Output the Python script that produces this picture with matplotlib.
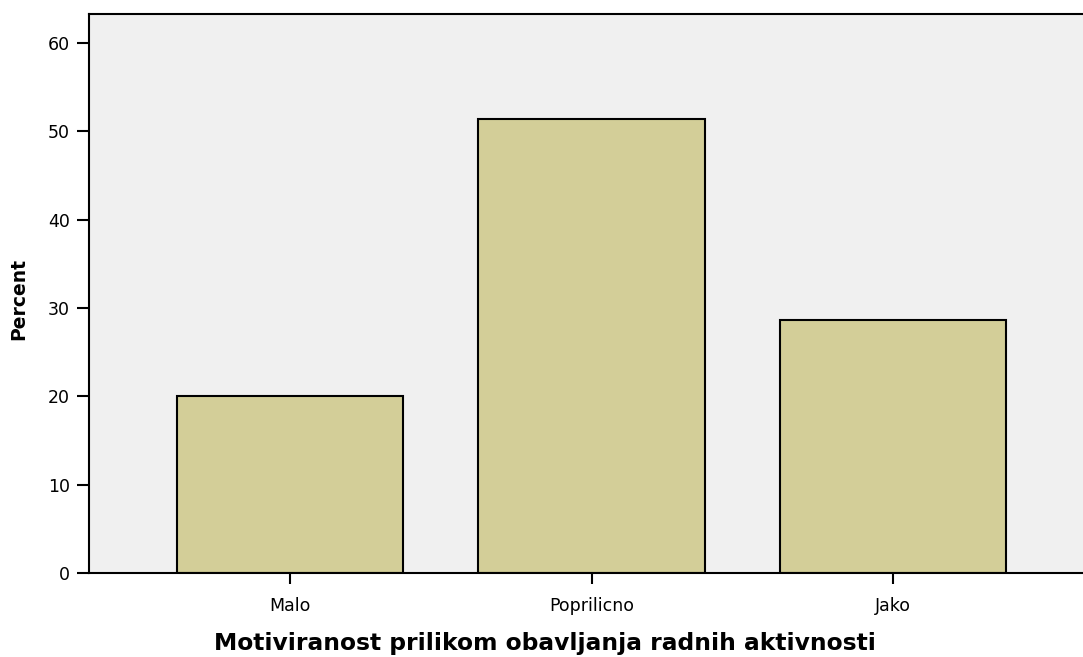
import numpy as np
import matplotlib.pyplot as plt

plt.rcParams['font.family'] = ['DejaVu Sans']

categories = ['Malo', 'Poprilicno', 'Jako']
percent = [20.0, 51.4, 28.6]

W, H = 1083, 657
fig = plt.figure(figsize=(W / 100, H / 100), dpi=100)
# plot area runs past the right edge of the picture, as in the original
ax = fig.add_axes([89 / W, 1 - 573 / H, (1094 - 89) / W, (573 - 14) / H])
ax.set_facecolor('#f0f0f0')

x = np.arange(len(categories))
ax.bar(x, percent, width=0.75, color='#d3ce98', edgecolor='black', linewidth=1.5, zorder=2)

ax.set_xlim(-0.667, 2.667)
ax.set_ylim(0, 63.3)
ax.set_yticks(np.arange(0, 61, 10))
ax.set_xticks(x)
ax.set_xticklabels(categories)
for s in ['left', 'bottom', 'top']:
    ax.spines[s].set_linewidth(1.5)
ax.spines['right'].set_visible(False)
ax.tick_params(axis='y', length=8.6, width=1.5, labelsize=12.5, pad=5)
ax.tick_params(axis='x', length=8, width=1.5, labelsize=12.5, pad=9.5)

fig.text(24 / W, 1 - 299 / H, 'Percent', rotation=90, rotation_mode='anchor',
         fontsize=13.5, fontweight='bold', ha='center', va='baseline')
fig.text(545 / W, 1 - 650 / H, 'Motiviranost prilikom obavljanja radnih aktivnosti',
         fontsize=16.8, fontweight='bold', ha='center', va='baseline')

plt.savefig('out.png', dpi=100)
